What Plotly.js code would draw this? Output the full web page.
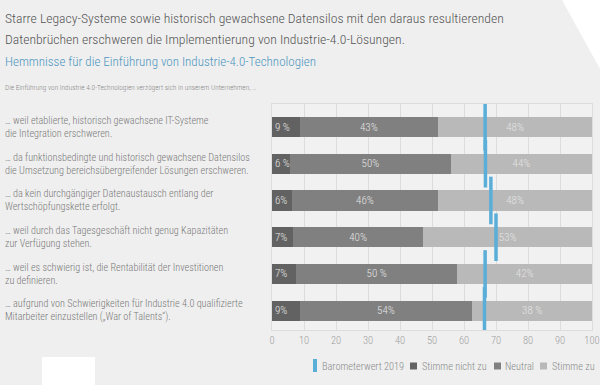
<!DOCTYPE html>
<html>
<head>
<meta charset="utf-8">
<script src="https://cdn.plot.ly/plotly-3.0.1.min.js"></script>
<style>html,body{margin:0;padding:0;background:#efefef;}#chart{width:600px;height:385px;}</style>
</head>
<body>
<div id="chart"></div>
<script>
// ---- data ----
const categories = [
  "… weil etablierte, historisch gewachsene IT-Systeme<br>die Integration erschweren.",
  "… da funktionsbedingte und historisch gewachsene Datensilos<br>die Umsetzung bereichsübergreifender Lösungen erschweren.",
  "… da kein durchgängiger Datenaustausch entlang der<br>Wertschöpfungskette erfolgt.",
  "… weil durch das Tagesgeschäft nicht genug Kapazitäten<br>zur Verfügung stehen.",
  "… weil es schwierig ist, die Rentabilität der Investitionen<br>zu definieren.",
  "… aufgrund von Schwierigkeiten für Industrie 4.0 qualifizierte<br>Mitarbeiter einzustellen („War of Talents“)."
];
// bar lengths
const stimmeNichtZu = [8.6, 5.6, 6.2, 6.5, 7.5, 8.6];
const neutral = [43.3, 50.3, 45.7, 40.8, 50.4, 54.0];
const stimmeZu = [48.1, 44.1, 48.1, 52.7, 42.1, 37.4];
// printed labels
const labelsNichtZu = ["9 %", "6 %", "6%", "7%", "7%", "9%"];
const labelsNeutral = ["43%", "50%", "46%", "40%", "50 %", "54%"];
const labelsZu = ["48%", "44%", "48%", "53%", "42%", "38 %"];
const barometer2019 = [66.6, 66.7, 68.4, 70.0, 66.6, 66.4];
const xTicks = [0, 10, 20, 30, 40, 50, 60, 70, 80, 90, 100];
const seriesNames = ["Barometerwert 2019", "Stimme nicht zu", "Neutral", "Stimme zu"];
const titleLines = [
  "Starre Legacy-Systeme sowie historisch gewachsene Datensilos mit den daraus resultierenden",
  "Datenbrüchen erschweren die Implementierung von Industrie-4.0-Lösungen."
];
const subtitle = "Hemmnisse für die Einführung von Industrie-4.0-Technologien";
const question = "Die Einführung von Industrie 4.0-Technologien verzögert sich in unserem Unternehmen, …";

// ---- layout helpers ----
const W = 600, H = 385, ML = 272, MR = 8, MT = 104, MB = 55;
const PW = W - ML - MR, PH = H - MT - MB;
const px = X => (X - ML) / PW;
const py = Y => (H - MB - Y) / PH;
const FONT = "Roboto Condensed, Liberation Sans Narrow, Arial Narrow, Lato, sans-serif";
const cDark = "#626262", cNeutral = "#808080", cLight = "#b9b9b9", cBlue = "#5aaed8";

const barCommon = {
  type: "bar", orientation: "h", y: categories, width: 0.545,
  textposition: "inside", constraintext: "none", textangle: 0,
  insidetextfont: {family: FONT, size: 11, color: "#e4e4e4", weight: 300},
  hoverinfo: "skip", showlegend: false
};
const traces = [
  Object.assign({}, barCommon, {name: seriesNames[1], x: stimmeNichtZu, text: labelsNichtZu,
    insidetextanchor: "start", marker: {color: cDark, line: {width: 0}}}),
  Object.assign({}, barCommon, {name: seriesNames[2], x: neutral, text: labelsNeutral,
    insidetextanchor: "middle", marker: {color: cNeutral, line: {width: 0}}}),
  Object.assign({}, barCommon, {name: seriesNames[3], x: stimmeZu, text: labelsZu,
    insidetextanchor: "middle", marker: {color: cLight, line: {width: 0}}}),
  {type: "scatter", mode: "markers", name: seriesNames[0], x: barometer2019, y: categories,
    marker: {symbol: "line-ns", size: 34, line: {width: 3.5, color: cBlue}, color: cBlue},
    hoverinfo: "skip", showlegend: false}
];

const annotations = [];
titleLines.forEach((t, i) => annotations.push({
  text: t, xref: "paper", yref: "paper", x: px(3), y: py(18.5 + i * 20),
  xanchor: "left", yanchor: "middle", showarrow: false,
  font: {family: FONT, size: 13.65, color: "#555555", weight: 300}
}));
annotations.push({text: subtitle, xref: "paper", yref: "paper", x: px(3), y: py(62),
  xanchor: "left", yanchor: "middle", showarrow: false,
  font: {family: FONT, size: 13, color: "#4e96c0", weight: 300}});
annotations.push({text: question, xref: "paper", yref: "paper", x: px(3), y: py(87),
  xanchor: "left", yanchor: "middle", showarrow: false,
  font: {family: FONT, size: 7.3, color: "#8a8a8a", weight: 300}});
categories.forEach(c => annotations.push({text: c, xref: "paper", yref: "y", x: px(3), y: c,
  xanchor: "left", yanchor: "middle", align: "left", showarrow: false,
  font: {family: FONT, size: 10.2, color: "#7a7a7a", weight: 300}}));

// legend (manual)
const legY = 366;
const legendItems = [
  {name: seriesNames[1], color: cDark, sx: 410, tx: 420},
  {name: seriesNames[2], color: cNeutral, sx: 494, tx: 503},
  {name: seriesNames[3], color: cLight, sx: 540, tx: 550}
];
const shapes = [
  {type: "path", xref: "paper", yref: "paper", layer: "below", fillcolor: "#ffffff", line: {width: 0},
   path: `M ${px(562)} ${py(0)} L ${px(600)} ${py(0)} L ${px(600)} ${py(69)} Z`},
  {type: "rect", xref: "paper", yref: "paper", layer: "below", fillcolor: "#ffffff", line: {width: 0},
   x0: px(42), x1: px(95), y0: py(357), y1: py(385)},
  {type: "rect", xref: "paper", yref: "paper", fillcolor: cBlue, line: {width: 0},
   x0: px(313), x1: px(317), y0: py(372), y1: py(359)}
];
const legFont = {family: FONT, size: 10.3, color: "#8a8a8a", weight: 300};
annotations.push({text: seriesNames[0], xref: "paper", yref: "paper", x: px(320), y: py(legY),
  xanchor: "left", yanchor: "middle", showarrow: false, font: legFont});
legendItems.forEach(it => {
  shapes.push({type: "rect", xref: "paper", yref: "paper", fillcolor: it.color, line: {width: 0},
    x0: px(it.sx), x1: px(it.sx + 7), y0: py(legY + 3.5), y1: py(legY - 3.5)});
  annotations.push({text: it.name, xref: "paper", yref: "paper", x: px(it.tx), y: py(legY),
    xanchor: "left", yanchor: "middle", showarrow: false, font: legFont});
});

const layout = {
  width: W, height: H, margin: {l: ML, r: MR, t: MT, b: MB, pad: 0},
  paper_bgcolor: "#efefef", plot_bgcolor: "#f1f1f1",
  barmode: "stack", showlegend: false,
  font: {family: FONT, color: "#8a8a8a"},
  xaxis: {range: [0, 100], tickvals: xTicks, showgrid: true, gridcolor: "#dcdcdc", gridwidth: 1,
    zeroline: false, showline: true, mirror: true, linecolor: "#dcdcdc", linewidth: 1,
    ticks: "", ticklen: 0, tickfont: {family: FONT, size: 10.5, color: "#a0a0a0", weight: 300}, fixedrange: true},
  yaxis: {type: "category", range: [5.525, -0.626], showticklabels: false, showgrid: false,
    zeroline: false, showline: true, mirror: true, linecolor: "#dcdcdc", ticks: "", fixedrange: true},
  annotations: annotations, shapes: shapes
};
Plotly.newPlot("chart", traces, layout, {displayModeBar: false, staticPlot: true});
</script>
</body>
</html>
